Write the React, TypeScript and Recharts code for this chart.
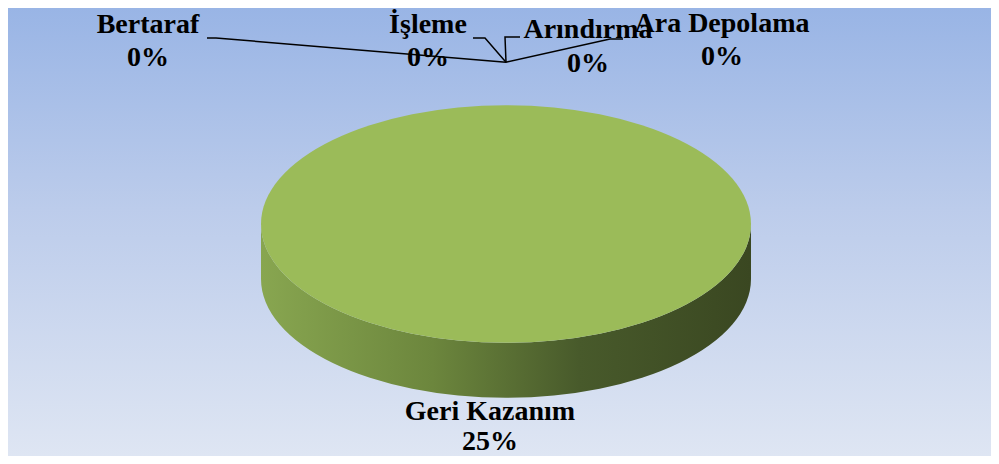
import React from 'react';
import { PieChart, Pie, Cell } from 'recharts';

const categories = ['Bertaraf', 'İşleme', 'Arındırma', 'Ara Depolama', 'Geri Kazanım'];
const values = [0, 0, 0, 0, 25];
const percentLabels = ['0%', '0%', '0%', '0%', '25%'];
const colors = ['#4F81BD', '#C0504D', '#8064A2', '#4BACC6', '#9BBB59'];

const data = categories.map((name, i) => ({ name, value: values[i], pct: percentLabels[i] }));

// 3D look
const TILT = 0.485;
const DEPTH = 55;
const LIFT = 43;

// label placement: text centre x, baseline of first line, leader line points (toward the anchor)
const labelLayout = [
  { x: 148, y: 33, gap: 33, leader: [[207, 38], [216, 38]] },
  { x: 428, y: 33, gap: 33, leader: [[473, 38], [485, 38]] },
  { x: 588, y: 38, gap: 34, leader: [[520, 37], [505, 37]] },
  { x: 722, y: 32, gap: 33, leader: [[623, 39], [610, 39]] },
  { x: 490, y: 420, gap: 30, leader: [] as number[][] },
];

const RAD = Math.PI / 180;

function Sector3D(props: any) {
  const { cx, cy, outerRadius, startAngle, endAngle, fill, index } = props;
  if (Math.abs(endAngle - startAngle) < 0.01) return null;
  const rx = outerRadius;
  const ry = outerRadius * TILT;
  const pt = (a: number, dy = 0) => [cx + rx * Math.cos(a * RAD), cy - ry * Math.sin(a * RAD) + dy];
  const a0 = Math.min(startAngle, endAngle);
  const a1 = Math.max(startAngle, endAngle);
  const full = a1 - a0 >= 359.99;

  // front (lower) half gets the side wall
  const s0 = Math.max(a0, -180);
  const s1 = Math.min(a1, 0);
  let side = '';
  if (s1 > s0) {
    const [x0, y0] = pt(s0);
    const [x1, y1] = pt(s1);
    const large = s1 - s0 > 180 ? 1 : 0;
    side = `M${x0},${y0} A${rx},${ry} 0 ${large} 0 ${x1},${y1} L${x1},${y1 + DEPTH} A${rx},${ry} 0 ${large} 1 ${x0},${y0 + DEPTH} Z`;
  }

  let top = '';
  if (!full) {
    const [x0, y0] = pt(a1);
    const [x1, y1] = pt(a0);
    const large = a1 - a0 > 180 ? 1 : 0;
    top = `M${cx},${cy} L${x0},${y0} A${rx},${ry} 0 ${large} 1 ${x1},${y1} Z`;
  }
  const gid = `side-grad-${index}`;

  return (
    <g>
      <defs>
        <linearGradient id={gid} x1="0" y1="0" x2="1" y2="0">
          <stop offset="0%" stopColor="#88A650" />
          <stop offset="35%" stopColor="#6C863D" />
          <stop offset="65%" stopColor="#485A2B" />
          <stop offset="100%" stopColor="#3A4721" />
        </linearGradient>
      </defs>
      {side && <path d={side} fill={`url(#${gid})`} />}
      {full ? <ellipse cx={cx} cy={cy} rx={rx} ry={ry} fill={fill} /> : <path d={top} fill={fill} />}
    </g>
  );
}

const renderLabel = (props: any) => {
  const { cx, cy, outerRadius, midAngle, index } = props;
  const layout = labelLayout[index];
  const entry = data[index];
  if (!layout) return null;
  const ax = cx + outerRadius * Math.cos(midAngle * RAD);
  const ay = cy - outerRadius * TILT * Math.sin(midAngle * RAD) - LIFT;
  const pts = [...layout.leader, [ax, ay]];
  return (
    <g key={`lbl-${index}`}>
      {layout.leader.length > 0 && (
        <polyline
          points={pts.map((p) => p.join(',')).join(' ')}
          fill="none"
          stroke="#000"
          strokeWidth={1.5}
        />
      )}
      <text
        x={layout.x}
        textAnchor="middle"
        fontFamily="'Times New Roman', 'Liberation Serif', serif"
        fontWeight="bold"
        fontSize={28}
        fill="#000"
      >
        <tspan x={layout.x} y={layout.y}>{entry.name}</tspan>
        <tspan x={layout.x} y={layout.y + layout.gap}>{entry.pct}</tspan>
      </text>
    </g>
  );
};

export default function App() {
  return (
    <div style={{ position: 'relative', width: 999, height: 464, margin: -8, overflow: 'hidden' }}>
      <div
        style={{
          position: 'absolute',
          left: 3,
          top: 1,
          width: 1000,
          height: 458,
          border: '2px solid #8A8A8A',
          background: 'linear-gradient(to bottom, #98B4E5 0%, #BCCCEB 45%, #DFE6F3 100%)',
        }}
      />
      <div style={{ position: 'absolute', left: 0, top: 0 }}>
        <PieChart width={999} height={464} margin={{ top: 0, right: 0, bottom: 0, left: 0 }}>
          <Pie
            data={data}
            dataKey="value"
            nameKey="name"
            cx={506}
            cy={224}
            outerRadius={245}
            startAngle={90}
            endAngle={-270}
            stroke="none"
            isAnimationActive={false}
            labelLine={false}
            label={renderLabel}
            shape={Sector3D}
          >
            {data.map((d, i) => (
              <Cell key={d.name} fill={colors[i]} />
            ))}
          </Pie>
        </PieChart>
      </div>
    </div>
  );
}
